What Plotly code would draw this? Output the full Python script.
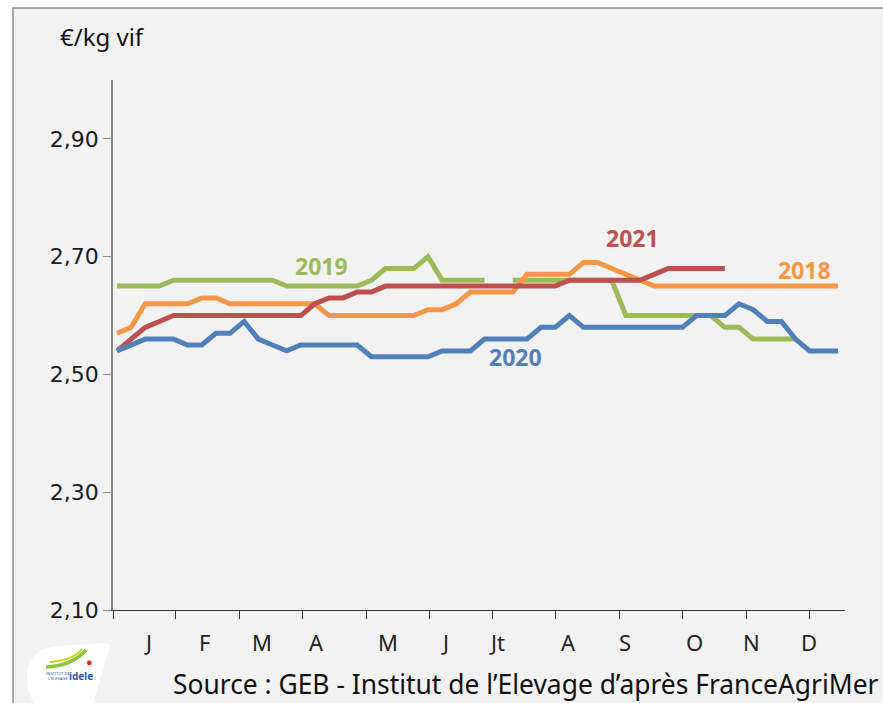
import plotly.graph_objects as go

weeks = list(range(1, 53))

y2018 = [2.57, 2.58, 2.62, 2.62, 2.62, 2.62, 2.63, 2.63, 2.62, 2.62,
         2.62, 2.62, 2.62, 2.62, 2.62, 2.60, 2.60, 2.60, 2.60, 2.60,
         2.60, 2.60, 2.61, 2.61, 2.62, 2.64, 2.64, 2.64, 2.64, 2.67,
         2.67, 2.67, 2.67, 2.69, 2.69, 2.68, 2.67, 2.66, 2.65, 2.65,
         2.65, 2.65, 2.65, 2.65, 2.65, 2.65, 2.65, 2.65, 2.65, 2.65,
         2.65, 2.65]

y2019 = [2.65, 2.65, 2.65, 2.65, 2.66, 2.66, 2.66, 2.66, 2.66, 2.66,
         2.66, 2.66, 2.65, 2.65, 2.65, 2.65, 2.65, 2.65, 2.66, 2.68,
         2.68, 2.68, 2.70, 2.66, 2.66, 2.66, 2.66, None, 2.66, 2.66,
         2.66, 2.66, 2.66, 2.66, 2.66, 2.66, 2.60, 2.60, 2.60, 2.60,
         2.60, 2.60, 2.60, 2.58, 2.58, 2.56, 2.56, 2.56, 2.56, None,
         None, None]

y2020 = [2.54, 2.55, 2.56, 2.56, 2.56, 2.55, 2.55, 2.57, 2.57, 2.59,
         2.56, 2.55, 2.54, 2.55, 2.55, 2.55, 2.55, 2.55, 2.53, 2.53,
         2.53, 2.53, 2.53, 2.54, 2.54, 2.54, 2.56, 2.56, 2.56, 2.56,
         2.58, 2.58, 2.60, 2.58, 2.58, 2.58, 2.58, 2.58, 2.58, 2.58,
         2.58, 2.60, 2.60, 2.60, 2.62, 2.61, 2.59, 2.59, 2.56, 2.54,
         2.54, 2.54]

y2021 = [2.54, 2.56, 2.58, 2.59, 2.60, 2.60, 2.60, 2.60, 2.60, 2.60,
         2.60, 2.60, 2.60, 2.60, 2.62, 2.63, 2.63, 2.64, 2.64, 2.65,
         2.65, 2.65, 2.65, 2.65, 2.65, 2.65, 2.65, 2.65, 2.65, 2.65,
         2.65, 2.65, 2.66, 2.66, 2.66, 2.66, 2.66, 2.66, 2.67, 2.68,
         2.68, 2.68, 2.68, 2.68]

series_names = ["2018", "2019", "2020", "2021"]
series_values = [y2018, y2019, y2020, y2021]
series_colors = ["#F79646", "#9BBB59", "#4F81BD", "#C0504D"]

month_labels = ["J", "F", "M", "A", "M", "J", "Jt", "A", "S", "O", "N", "D"]
month_pos = [3.19, 7.22, 11.25, 15.14, 20.17, 24.2, 27.87, 32.97, 36.93, 41.88, 45.9, 49.94]
tick_pos = [0.72, 5.17, 9.70, 14.15, 18.68, 23.14, 27.59, 32.05, 36.57, 41.03, 45.56, 50.01]

y_ticks = [2.10, 2.30, 2.50, 2.70, 2.90]

label_pos = {"2019": (15.5, 2.685), "2020": (29.2, 2.529),
             "2021": (37.5, 2.732), "2018": (49.65, 2.678)}

fig = go.Figure()
order = [1, 0, 3, 2]
for i in order:
    ys = series_values[i]
    fig.add_trace(go.Scatter(
        x=weeks[:len(ys)], y=ys, mode="lines", name=series_names[i],
        line=dict(color=series_colors[i], width=5),
        connectgaps=False, showlegend=False, hoverinfo="skip"))

for name, col in zip(series_names, series_colors):
    px_, py_ = label_pos[name]
    fig.add_annotation(x=px_, y=py_, xref="x", yref="y", text="<b>%s</b>" % name,
                       showarrow=False, xanchor="center", yanchor="middle",
                       font=dict(family="Noto Sans", size=23, color=col))


def px_x(v):
    return (v - 113) / 732


def px_y(v):
    return (610 - v) / 530


for lab, pos in zip(month_labels, month_pos):
    fig.add_annotation(x=pos, y=px_y(642), xref="x", yref="paper", text=lab, showarrow=False,
                       xanchor="center", yanchor="middle",
                       font=dict(family="Noto Sans", size=22, color="#222222"))

fig.add_annotation(x=px_x(58), y=px_y(36), xref="paper", yref="paper",
                   text="€/kg vif", showarrow=False, xanchor="left", yanchor="middle",
                   font=dict(family="Noto Sans", size=24, color="#111111"))
fig.add_annotation(x=px_x(881), y=px_y(684), xref="paper", yref="paper",
                   text="Source : GEB - Institut de l’Elevage d’après FranceAgriMer",
                   showarrow=False, xanchor="right", yanchor="middle",
                   font=dict(family="Noto Sans", size=26.4, color="#111111"))

fig.add_shape(type="rect", xref="paper", yref="paper", x0=px_x(13), x1=px_x(895),
              y0=px_y(715), y1=px_y(8), fillcolor="#F2F2F2",
              line=dict(color="#8C8C8C", width=1.5), layer="below")

# logo approximation
fig.add_shape(type="path", xref="paper", yref="paper",
              path="M %f %f Q %f %f %f %f L %f %f Q %f %f %f %f L %f %f L %f %f Q %f %f %f %f Z" % (
                  px_x(28), px_y(668), px_x(32), px_y(648), px_x(60), px_y(646),
                  px_x(104), px_y(643), px_x(112), px_y(643), px_x(108), px_y(653),
                  px_x(93), px_y(703), px_x(35), px_y(703), px_x(24), px_y(690), px_x(28), px_y(668)),
              fillcolor="white", line=dict(width=0), layer="above")
fig.add_shape(type="path", xref="paper", yref="paper",
              path="M %f %f Q %f %f %f %f" % (px_x(46), px_y(667), px_x(72), px_y(666), px_x(86), px_y(650)),
              line=dict(color="#8DC63F", width=3.5))
fig.add_shape(type="path", xref="paper", yref="paper",
              path="M %f %f Q %f %f %f %f" % (px_x(50), px_y(662), px_x(74), px_y(660), px_x(82), px_y(649)),
              line=dict(color="#C8D400", width=2))
fig.add_annotation(x=px_x(81), y=px_y(676), xref="paper", yref="paper", text="<b>idele</b>",
                   showarrow=False, xanchor="center", yanchor="middle",
                   font=dict(family="Noto Sans", size=10, color="#1F5FA8"))
fig.add_annotation(x=px_x(58), y=px_y(676), xref="paper", yref="paper",
                   text="INSTITUT DE<br>L'ELEVAGE", showarrow=False, xanchor="center", yanchor="middle",
                   font=dict(family="Noto Sans", size=4, color="#1F5FA8"))
fig.add_annotation(x=px_x(89), y=px_y(661), xref="paper", yref="paper", text="●",
                   showarrow=False, xanchor="center", yanchor="middle",
                   font=dict(size=11, color="#E2231A"))

fig.update_layout(
    width=883, height=703,
    margin=dict(l=113, r=38, t=80, b=93),
    paper_bgcolor="white", plot_bgcolor="rgba(0,0,0,0)",
    separators=", ",
    xaxis=dict(range=[0.72, 52.5], showgrid=False, zeroline=False,
               showline=True, linecolor="#333333", linewidth=1.2,
               tickmode="array", tickvals=tick_pos, ticktext=[""] * len(tick_pos),
               ticks="outside", ticklen=8, tickcolor="#333333", tickwidth=1),
    yaxis=dict(range=[2.10, 3.00], showgrid=False, zeroline=False,
               showline=True, linecolor="#868686", linewidth=1.5,
               tickmode="array", tickvals=y_ticks, tickformat=".2f",
               ticks="outside", ticklen=8, tickcolor="#868686",
               tickfont=dict(family="DejaVu Sans", size=22, color="#1a1a1a")),
)

fig.write_html("out.html", config={"displayModeBar": False},
               post_script="document.body.style.margin='0';document.body.style.overflow='hidden';")
